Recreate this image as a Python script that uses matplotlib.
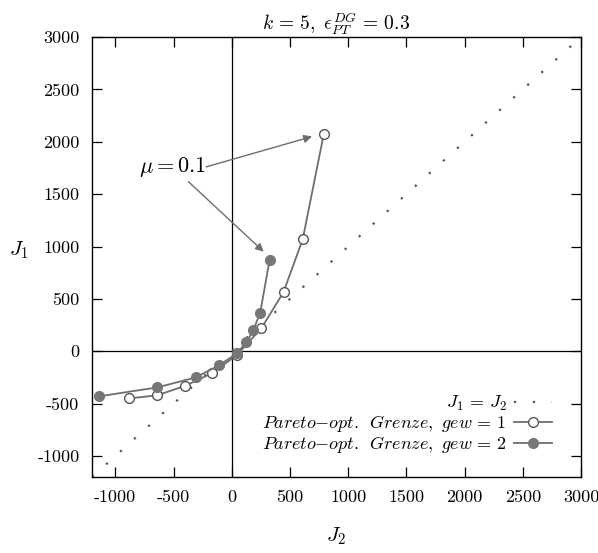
import matplotlib
matplotlib.use('Agg')
import matplotlib.pyplot as plt

plt.rcParams['mathtext.fontset'] = 'cm'
plt.rcParams['font.family'] = ['cmr10', 'DejaVu Serif']
plt.rcParams['axes.unicode_minus'] = False

# J1 = J2 reference line (range ends)
diag = [-1200, 3000]

# Pareto front, gew = 1 (open circles)
gew1_j2 = [-880, -640, -400, -170, 45, 255, 445, 610, 790]
gew1_j1 = [-450, -420, -330, -210, -35, 220, 565, 1070, 2070]

# Pareto front, gew = 2 (filled circles)
gew2_j2 = [-1140, -640, -310, -110, 45, 125, 185, 245, 325]
gew2_j1 = [-430, -345, -250, -135, -20, 85, 200, 370, 870]

ticks = [-1000, -500, 0, 500, 1000, 1500, 2000, 2500, 3000]
tick_labels = ['-1000', '-500', '0', '500', '1000', '1500', '2000', '2500', '3000']

GRAY = '#6e6e6e'

fig = plt.figure(figsize=(5.98, 5.53), dpi=100)
ax = fig.add_axes([92 / 598, 1 - 477 / 553, 489 / 598, 440 / 553])

ax.axhline(0, color='black', linewidth=0.9, zorder=1)
ax.axvline(0, color='black', linewidth=0.9, zorder=1)

ax.plot(diag, diag, color='#555555', linestyle=(0, (1, 7.5)), linewidth=1.6,
        label=r'$J_1 \,=\, J_2$', zorder=2)
ax.plot(gew1_j2, gew1_j1, color=GRAY, linewidth=1.3, marker='o',
        markersize=7, markerfacecolor='white', markeredgecolor='#555555',
        markeredgewidth=1.0,
        label=r'$Pareto{-}opt.\ \, Grenze,\ gew\,=\,1$', zorder=3)
ax.plot(gew2_j2, gew2_j1, color=GRAY, linewidth=1.3, marker='o',
        markersize=7, markerfacecolor='#777777', markeredgecolor='#777777',
        label=r'$Pareto{-}opt.\ \, Grenze,\ gew\,=\,2$', zorder=4)

ax.set_xlim(-1200, 3000)
ax.set_ylim(-1200, 3000)
ax.set_xticks(ticks)
ax.set_xticklabels(tick_labels)
ax.set_yticks(ticks)
ax.set_yticklabels(tick_labels)
ax.tick_params(direction='in', length=7, width=0.9, top=True, right=True,
               labelsize=13, pad=9)
for s in ax.spines.values():
    s.set_linewidth(1.0)

ax.annotate('', xy=(690, 2050), xytext=(-220, 1760),
            arrowprops=dict(arrowstyle='-|>', color=GRAY, lw=1.0,
                            mutation_scale=12, shrinkA=0, shrinkB=0))
ax.annotate(r'$\mu = 0.1$', xy=(275, 950), xytext=(-220, 1760),
            fontsize=16, ha='right', va='center',
            arrowprops=dict(arrowstyle='-|>', color=GRAY, lw=1.0,
                            mutation_scale=12, shrinkA=0, shrinkB=0))

ax.set_title(r'$k\,=\,5,\ \epsilon_{PT}^{DG}\,=\,0.3$', fontsize=14, pad=5)
ax.set_xlabel(r'$J_2$', fontsize=15, labelpad=15)
ax.set_ylabel(r'$J_1$', fontsize=15, rotation=0, va='center')
ax.yaxis.set_label_coords(-0.15, 0.515)

ax.legend(loc='lower right', bbox_to_anchor=(0.94, 0.05), frameon=False,
          markerfirst=False, fontsize=13, handlelength=2.1,
          handleheight=0.5, labelspacing=0.0, handletextpad=0.4,
          borderaxespad=0, borderpad=0)

fig.savefig('out.png', dpi=100)
